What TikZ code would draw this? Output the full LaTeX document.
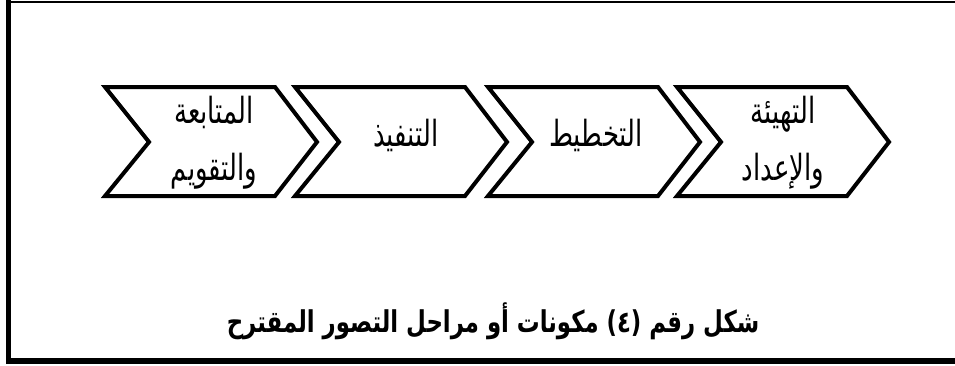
\documentclass[tikz,border=0pt]{standalone}
\usepackage{fontspec}
\TeXXeTstate=1
\newfontfamily\arabicfont[Script=Arabic,FakeStretch=0.72]{DejaVu Sans}
\newfontfamily\arabiccap[Script=Arabic,FakeStretch=0.76]{DejaVu Sans}
\tikzset{
  chev/.style={draw=black,line width=4pt,line join=miter,fill=white},
  label/.style={font=\arabicfont\fontsize{36}{40}\selectfont,inner sep=0pt,anchor=base},
  caption/.style={font=\arabiccap\bfseries\fontsize{30}{34}\selectfont,inner sep=0pt,anchor=base},
  frame/.style={draw=black}
}
\newcommand\chevshape[1]{%
  \draw[chev] (#1,87) -- ++(170,0) -- ++(42,55) -- ++(-42,54) -- ++(-170,0) -- ++(44,-54) -- cycle;}
\begin{document}
\begin{tikzpicture}[x=1pt,y=-1pt]
\useasboundingbox (0,0) rectangle (955,365);
% frame
\draw[frame,line width=2pt] (6,2) -- (955,2);
\draw[frame,line width=5pt] (8.5,0) -- (8.5,364);
\draw[frame,line width=6pt] (6,361) -- (955,361);
% chevrons
\chevshape{105}
\chevshape{295}
\chevshape{488}
\chevshape{677}
% labels
\node[label] (c1a) at (214,123) {\beginR المتابعة\endR};
\node[label] (c1b) at (214,180) {\beginR والتقويم\endR};
\node[label] (c2) at (406,146) {\beginR التنفيذ\endR};
\node[label] (c3) at (596,146) {\beginR التخطيط\endR};
\node[label] (c4a) at (783,123) {\beginR التهيئة\endR};
\node[label] (c4b) at (783,180) {\beginR والإعداد\endR};
\node[caption] (cap) at (493,332) {\beginR شكل رقم (٤) مكونات أو مراحل التصور المقترح\endR};
\end{tikzpicture}
\end{document}
